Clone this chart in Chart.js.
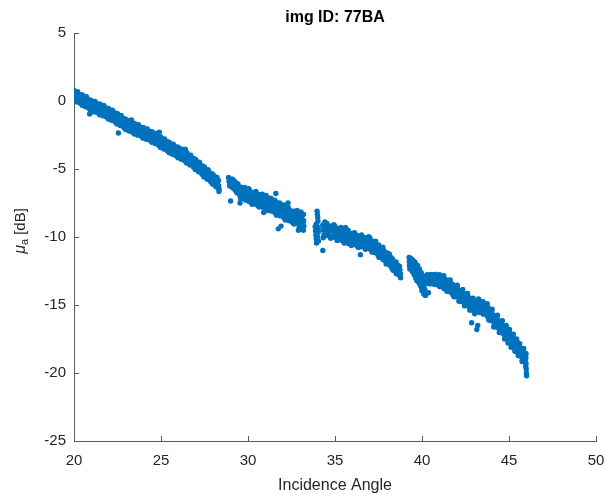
<!DOCTYPE html>
<html>
<head>
<meta charset="utf-8">
<script src="https://cdn.jsdelivr.net/npm/chart.js@4.4.1/dist/chart.umd.min.js"></script>
<style>
  html, body { margin: 0; padding: 0; background: #fff; }
  #wrap { width: 608px; height: 499px; }
</style>
</head>
<body>
<div id="wrap"><canvas id="scatterChart" width="608" height="499"></canvas></div>
<script>
const chartTitle = "img ID: 77BA";
const xTitle = "Incidence Angle";
const angleTicks = [20, 25, 30, 35, 40, 45, 50];
const muTicks = [-25, -20, -15, -10, -5, 0, 5];

// [incidence angle, mu_a dB], one list per visible stretch
const segA = [
  [20.00,0.78],[20.03,0.44],[20.06,0.06],[20.11,0.61],[20.13,0.37],[20.15,-0.07],[20.21,0.68],[20.24,0.26],[20.27,-0.02],
  [20.30,0.49],[20.33,0.11],[20.36,-0.17],[20.42,0.47],[20.44,0.18],[20.47,-0.32],[20.50,0.43],[20.53,0.01],[20.56,-0.27],
  [20.61,0.25],[20.63,0.01],[20.66,-0.43],[20.71,0.31],[20.74,-0.11],[20.77,-0.39],[20.80,0.11],[20.83,-0.27],[20.86,-0.55],
  [20.92,0.08],[20.94,-0.21],[20.97,-0.71],[21.00,0.03],[21.03,-0.39],[21.06,-0.67],[21.11,-0.12],[21.13,-0.36],[21.16,-0.80],
  [21.21,-0.04],[21.24,-0.46],[21.27,-0.74],[21.30,-0.21],[21.33,-0.59],[21.36,-0.87],[21.42,-0.22],[21.44,-0.51],[21.47,-1.01],
  [21.50,-0.24],[21.53,-0.66],[21.56,-0.94],[21.61,-0.41],[21.63,-0.65],[21.66,-1.09],[21.71,-0.33],[21.74,-0.75],[21.77,-1.03],
  [21.80,-0.52],[21.83,-0.90],[21.86,-1.18],[21.92,-0.53],[21.94,-0.82],[21.97,-1.32],[22.00,-0.57],[22.03,-0.99],[22.06,-1.27],
  [22.11,-0.74],[22.13,-0.98],[22.16,-1.42],[22.21,-0.68],[22.24,-1.10],[22.27,-1.38],[22.30,-0.87],[22.33,-1.25],[22.36,-1.53],
  [22.42,-0.90],[22.44,-1.19],[22.47,-1.69],[22.50,-0.94],[22.53,-1.36],[22.56,-1.64],[22.61,-1.13],[22.63,-1.37],[22.66,-1.81],
  [22.71,-1.07],[22.74,-1.49],[22.77,-1.77],[22.80,-1.28],[22.83,-1.66],[22.86,-1.94],[22.92,-1.31],[22.94,-1.60],[22.97,-2.10],
  [23.00,-1.37],[23.03,-1.79],[23.06,-2.07],[23.11,-1.53],[23.13,-1.77],[23.16,-2.21],[23.21,-1.45],[23.24,-1.87],[23.27,-2.15],
  [23.30,-1.63],[23.33,-2.01],[23.36,-2.29],[23.42,-1.64],[23.44,-1.93],[23.47,-2.43],[23.50,-1.67],[23.53,-2.09],[23.56,-2.37],
  [23.61,-1.83],[23.63,-2.07],[23.66,-2.51],[23.71,-1.75],[23.74,-2.17],[23.77,-2.45],[23.80,-1.93],[23.83,-2.31],[23.86,-2.59],
  [23.92,-1.94],[23.94,-2.23],[23.97,-2.73],[24.00,-1.97],[24.03,-2.39],[24.06,-2.67],[24.11,-2.13],[24.13,-2.37],[24.16,-2.81],
  [24.21,-2.05],[24.24,-2.47],[24.27,-2.75],[24.30,-2.23],[24.33,-2.61],[24.36,-2.89],[24.42,-2.24],[24.44,-2.53],[24.47,-3.03],
  [24.50,-2.27],[24.53,-2.69],[24.56,-2.97],[24.61,-2.45],[24.63,-2.69],[24.66,-3.13],[24.71,-2.39],[24.74,-2.81],[24.77,-3.09],
  [24.80,-2.59],[24.83,-2.97],[24.86,-3.25],[24.92,-2.62],[24.94,-2.91],[24.97,-3.41],[25.00,-2.67],[25.03,-3.09],[25.06,-3.37],
  [25.11,-2.85],[25.13,-3.09],[25.16,-3.53],[25.21,-2.79],[25.24,-3.21],[25.27,-3.49],[25.30,-2.99],[25.33,-3.37],[25.36,-3.65],
  [25.42,-3.02],[25.44,-3.31],[25.47,-3.81],[25.50,-3.07],[25.53,-3.49],[25.56,-3.77],[25.61,-3.24],[25.63,-3.48],[25.66,-3.92],
  [25.71,-3.17],[25.74,-3.59],[25.77,-3.87],[25.80,-3.36],[25.83,-3.74],[25.86,-4.02],[25.92,-3.38],[25.94,-3.67],[25.97,-4.17],
  [26.00,-3.42],[26.03,-3.84],[26.06,-4.12],[26.11,-3.60],[26.13,-3.84],[26.16,-4.28],[26.21,-3.54],[26.24,-3.96],[26.27,-4.24],
  [26.30,-3.74],[26.33,-4.12],[26.36,-4.40],[26.42,-3.77],[26.44,-4.06],[26.47,-4.56],[26.50,-3.82],[26.53,-4.24],[26.56,-4.52],
  [26.61,-4.02],[26.63,-4.26],[26.66,-4.70],[26.71,-3.98],[26.74,-4.40],[26.77,-4.68],[26.80,-4.20],[26.83,-4.58],[26.86,-4.86],
  [26.92,-4.25],[26.94,-4.54],[26.97,-5.04],[27.00,-4.32],[27.03,-4.74],[27.06,-5.02],[27.11,-4.53],[27.13,-4.77],[27.16,-5.21],
  [27.21,-4.50],[27.24,-4.92],[27.27,-5.20],[27.30,-4.73],[27.33,-5.11],[27.36,-5.39],[27.42,-4.79],[27.44,-5.08],[27.47,-5.58],
  [27.50,-4.87],[27.53,-5.29],[27.56,-5.57],[27.61,-5.08],[27.63,-5.32],[27.66,-5.76],[27.71,-5.05],[27.74,-5.47],[27.77,-5.75],
  [27.80,-5.28],[27.83,-5.66],[27.86,-5.94],[27.92,-5.34],[27.94,-5.63],[27.97,-6.13],[28.00,-5.42],[28.03,-5.84],[28.06,-6.12],
  [28.11,-5.63],[28.13,-5.87],[28.16,-6.31],[28.21,-5.61],[28.24,-6.03],[28.27,-6.31],[28.30,-5.84],[28.32,-6.22],[28.34,-6.50],
  [28.33,-6.65],[28.31,-6.40]
];

const segB = [
  [28.88,-5.62],[28.91,-5.92],[28.94,-6.24],[29.00,-5.75],[29.03,-6.01],[29.06,-6.33],[29.11,-5.75],[29.13,-6.11],[29.16,-6.41],
  [29.21,-5.88],[29.24,-6.26],[29.27,-6.56],[29.30,-5.99],[29.33,-6.28],[29.36,-6.74],[29.42,-6.10],[29.44,-6.44],[29.47,-6.82],
  [29.50,-6.33],[29.53,-6.66],[29.56,-7.05],[29.61,-6.33],[29.63,-6.75],[29.66,-7.03],[29.58,-7.20],[29.71,-6.50],[29.74,-6.87],
  [29.77,-7.16],[29.80,-6.50],[29.83,-6.79],[29.86,-7.29],[29.82,-6.35],[29.92,-6.52],[29.94,-6.86],[29.97,-7.18],[30.00,-6.67],
  [30.03,-7.00],[30.06,-7.39],[30.04,-6.45],[30.11,-6.59],[30.13,-7.01],[30.16,-7.29],[30.21,-6.77],[30.24,-7.14],[30.27,-7.43],
  [30.23,-7.60],[30.30,-6.78],[30.33,-7.07],[30.36,-7.57],[30.42,-6.81],[30.44,-7.15],[30.47,-7.47],[30.45,-6.65],[30.50,-6.97],
  [30.53,-7.30],[30.56,-7.69],[30.61,-6.87],[30.63,-7.29],[30.66,-7.57],[30.64,-7.80],[30.71,-7.03],[30.74,-7.40],[30.77,-7.69],
  [30.80,-7.02],[30.83,-7.31],[30.86,-7.81],[30.82,-6.85],[30.92,-7.03],[30.94,-7.37],[30.97,-7.69],[31.00,-7.17],[31.03,-7.50],
  [31.06,-7.89],[31.04,-6.95],[31.11,-7.10],[31.13,-7.52],[31.16,-7.80],[31.14,-8.05],[31.21,-7.29],[31.24,-7.66],[31.27,-7.95],
  [31.30,-7.31],[31.33,-7.60],[31.36,-8.10],[31.32,-7.15],[31.42,-7.35],[31.44,-7.69],[31.47,-8.01],[31.50,-7.52],[31.53,-7.85],
  [31.56,-8.24],[31.54,-7.30],[31.61,-7.45],[31.63,-7.87],[31.66,-8.15],[31.64,-8.40],[31.71,-7.64],[31.74,-8.01],[31.77,-8.30],
  [31.80,-7.66],[31.83,-7.95],[31.86,-8.45],[31.82,-7.50],[31.92,-7.70],[31.94,-8.04],[31.97,-8.36],[32.00,-7.87],[32.03,-8.20],
  [32.06,-8.59],[32.04,-7.65],[32.11,-7.80],[32.13,-8.22],[32.16,-8.50],[32.14,-8.75],[32.21,-7.99],[32.24,-8.36],[32.27,-8.65],
  [32.30,-8.01],[32.33,-8.30],[32.36,-8.80],[32.32,-7.85],[32.42,-8.05],[32.44,-8.39],[32.47,-8.71],[32.50,-8.22],[32.53,-8.55],
  [32.56,-8.94],[32.61,-8.11],[32.63,-8.53],[32.66,-8.81],[32.64,-9.05],[32.71,-8.26],[32.74,-8.63],[32.77,-8.92],[32.80,-8.24],
  [32.83,-8.53],[32.86,-9.03],[32.82,-8.05],[32.92,-8.24],[32.94,-8.58],[32.97,-8.90],[32.95,-9.30],[33.00,-8.37],[33.03,-8.70],
  [33.06,-9.09],[33.04,-8.15],[33.11,-8.30],[33.13,-8.72],[33.16,-9.00],[33.14,-9.40],[33.19,-8.35],[33.20,-8.80],[33.21,-9.20],
  [33.18,-9.50]
];

const segC = [
  [33.86,-9.25],[33.88,-9.55],[33.90,-9.85],[33.92,-10.15],[33.94,-10.45],[33.96,-9.40],[33.98,-9.70],[34.00,-10.00],
  [33.97,-8.10],[33.99,-8.35],[34.01,-8.60],[34.02,-8.85],[34.04,-9.30],[34.06,-9.60],[34.05,-10.30],[33.92,-9.05]
];

const segD = [
  [34.30,-9.12],[34.33,-9.46],[34.36,-9.84],[34.32,-10.05],[34.41,-9.23],[34.43,-9.47],[34.46,-9.91],[34.51,-9.11],[34.54,-9.53],
  [34.57,-9.81],[34.53,-9.00],[34.60,-9.24],[34.63,-9.62],[34.66,-9.90],[34.72,-9.20],[34.74,-9.49],[34.77,-9.99],[34.75,-10.10],
  [34.80,-9.20],[34.83,-9.54],[34.86,-9.92],[34.91,-9.34],[34.93,-9.58],[34.96,-10.02],[34.94,-9.10],[35.01,-9.23],[35.04,-9.65],
  [35.07,-9.93],[35.10,-9.41],[35.13,-9.79],[35.16,-10.07],[35.12,-10.25],[35.22,-9.42],[35.24,-9.71],[35.27,-10.21],[35.30,-9.45],
  [35.33,-9.79],[35.36,-10.17],[35.34,-9.30],[35.41,-9.61],[35.43,-9.85],[35.46,-10.29],[35.51,-9.53],[35.54,-9.95],[35.57,-10.23],
  [35.53,-10.45],[35.60,-9.69],[35.63,-10.07],[35.66,-10.35],[35.72,-9.68],[35.74,-9.97],[35.77,-10.47],[35.75,-9.50],[35.80,-9.69],
  [35.83,-10.03],[35.86,-10.41],[35.91,-9.83],[35.93,-10.07],[35.96,-10.51],[35.94,-10.62],[36.01,-9.73],[36.04,-10.15],[36.07,-10.43],
  [36.10,-9.89],[36.13,-10.27],[36.16,-10.55],[36.12,-9.68],[36.22,-9.88],[36.24,-10.17],[36.27,-10.67],[36.30,-9.89],[36.33,-10.23],
  [36.36,-10.61],[36.34,-10.78],[36.41,-10.03],[36.43,-10.27],[36.46,-10.71],[36.51,-9.93],[36.54,-10.35],[36.57,-10.63],[36.53,-9.85],
  [36.60,-10.08],[36.63,-10.46],[36.66,-10.74],[36.72,-10.06],[36.74,-10.35],[36.77,-10.85],[36.75,-10.90],[36.80,-10.06],[36.83,-10.40],
  [36.86,-10.78],[36.91,-10.19],[36.93,-10.43],[36.96,-10.87],[36.94,-9.98],[37.01,-10.08],[37.04,-10.50],[37.07,-10.78],[37.10,-10.30],
  [37.13,-10.68],[37.16,-10.96],[37.12,-11.10],[37.22,-10.35],[37.24,-10.64],[37.27,-11.14],[37.30,-10.42],[37.33,-10.76],[37.36,-11.14],
  [37.34,-10.30],[37.41,-10.62],[37.43,-10.86],[37.46,-11.30],[37.51,-10.58],[37.54,-11.00],[37.57,-11.28],[37.53,-11.50],[37.60,-10.82],
  [37.63,-11.20],[37.66,-11.48],[37.72,-10.89],[37.74,-11.18],[37.77,-11.68],[37.75,-10.75],[37.80,-10.98],[37.83,-11.32],[37.86,-11.70],
  [37.91,-11.20],[37.93,-11.44],[37.96,-11.88],[37.94,-11.98],[38.01,-11.18],[38.04,-11.60],[38.07,-11.88],[38.10,-11.43],[38.13,-11.81],
  [38.16,-12.09],[38.12,-11.25],[38.22,-11.51],[38.24,-11.80],[38.27,-12.30],[38.30,-11.61],[38.33,-11.95],[38.36,-12.33],[38.34,-12.45],
  [38.41,-11.84],[38.43,-12.08],[38.46,-12.52],[38.51,-11.83],[38.54,-12.25],[38.57,-12.53],[38.53,-12.70],[38.60,-12.07],[38.63,-12.45],
  [38.66,-12.73],[38.71,-12.14],[38.73,-12.43],[38.75,-12.93],[38.76,-12.70],[38.77,-13.00]
];

const segE = [
  [39.26,-11.50],[39.27,-11.80],[39.28,-12.10],[39.31,-11.55],[39.32,-11.85],[39.33,-12.15],[39.36,-11.62],[39.37,-11.95],[39.38,-12.28],
  [39.41,-11.70],[39.42,-12.02],[39.43,-12.40],[39.46,-11.78],[39.47,-12.12],[39.48,-12.50],[39.51,-11.85],[39.52,-12.22],[39.53,-12.60],
  [39.56,-11.92],[39.57,-12.30],[39.58,-12.72],[39.61,-12.00],[39.62,-12.40],[39.63,-12.85],[39.66,-12.08],[39.67,-12.52],[39.68,-12.98],
  [39.71,-12.20],[39.72,-12.65],[39.73,-13.10],[39.76,-12.32],[39.77,-12.78],[39.78,-13.22],[39.81,-12.45],[39.82,-12.90],[39.83,-13.35],
  [39.86,-12.58],[39.87,-13.02],[39.88,-13.48],[39.91,-12.70],[39.92,-13.15],[39.93,-13.62],[39.96,-12.82],[39.97,-13.28],[39.98,-13.75],
  [40.01,-12.95],[40.02,-13.40],[40.03,-13.88],[40.06,-13.05],[40.07,-13.52],[40.08,-14.00],[40.11,-13.15],[40.12,-13.60],[40.13,-14.10],
  [40.15,-13.30],[40.16,-13.85],[40.17,-14.25],
  [39.30,-12.35],[39.40,-11.62],[39.45,-12.55],[39.55,-12.80],[39.60,-11.85],[39.65,-13.05],[39.75,-12.10],[39.80,-13.30],
  [39.85,-12.35],[39.95,-12.60],[40.00,-13.95],[40.05,-12.85],[40.10,-14.20],[39.50,-11.75],[39.70,-13.20]
];

const segF = [
  [40.30,-12.78],[40.33,-13.06],[40.36,-13.40],[40.41,-12.82],[40.43,-13.06],[40.46,-13.45],[40.51,-12.75],[40.54,-13.10],[40.57,-13.38],
  [40.60,-12.80],[40.63,-13.18],[40.66,-13.46],[40.72,-12.75],[40.74,-13.04],[40.77,-13.50],[40.80,-12.75],[40.83,-13.09],[40.86,-13.47],
  [40.91,-12.89],[40.93,-13.13],[40.96,-13.57],[41.01,-12.78],[41.04,-13.20],[41.07,-13.48],[41.03,-13.65],[41.10,-12.98],[41.13,-13.36],
  [41.16,-13.64],[41.22,-13.01],[41.24,-13.30],[41.27,-13.80],[41.25,-12.85],[41.30,-13.06],[41.33,-13.40],[41.36,-13.78],[41.41,-13.24],
  [41.43,-13.48],[41.46,-13.92],[41.44,-14.00],[41.51,-13.18],[41.54,-13.60],[41.57,-13.88],[41.60,-13.40],[41.63,-13.78],[41.66,-14.06],
  [41.62,-13.15],[41.72,-13.45],[41.74,-13.74],[41.77,-14.24],[41.80,-13.52],[41.83,-13.86],[41.86,-14.24],[41.84,-14.40],[41.91,-13.72],
  [41.93,-13.96],[41.96,-14.40],[42.01,-13.68],[42.04,-14.10],[42.07,-14.38],[42.03,-13.55],[42.10,-13.90],[42.13,-14.28],[42.16,-14.56],
  [42.12,-14.72],[42.22,-13.95],[42.24,-14.24],[42.27,-14.74],[42.30,-14.02],[42.33,-14.36],[42.36,-14.74],[42.34,-13.85],[42.41,-14.22],
  [42.43,-14.46],[42.46,-14.90],[42.44,-15.05],[42.51,-14.18],[42.54,-14.60],[42.57,-14.88],[42.60,-14.41],[42.63,-14.79],[42.66,-15.07],
  [42.62,-14.15],[42.72,-14.47],[42.74,-14.76],[42.77,-15.26],[42.75,-15.38],[42.80,-14.55],[42.83,-14.89],[42.86,-15.27],[42.91,-14.76],
  [42.93,-15.00],[42.96,-15.44],[42.94,-14.50],[43.01,-14.73],[43.04,-15.15],[43.07,-15.43],[43.03,-15.65],[43.10,-14.82],[43.13,-15.20],
  [43.16,-15.48],[43.22,-14.73],[43.24,-15.02],[43.27,-15.52],[43.25,-14.55],[43.30,-14.67],[43.33,-15.01],[43.36,-15.39],[43.34,-15.55],
  [43.41,-14.84],[43.43,-15.08],[43.46,-15.52],[43.51,-14.76],[43.54,-15.18],[43.57,-15.46],[43.53,-15.68],[43.60,-14.95],[43.63,-15.33],
  [43.66,-15.61],[43.72,-15.06],[43.74,-15.35],[43.77,-15.85],[43.75,-14.90],[43.80,-15.20],[43.83,-15.54],[43.86,-15.92],[43.84,-16.10],
  [43.91,-15.46],[43.93,-15.70],[43.96,-16.14],[44.01,-15.48],[44.04,-15.90],[44.07,-16.18],[44.03,-15.30],[44.10,-15.74],[44.13,-16.12],
  [44.16,-16.40],[44.12,-16.62],[44.22,-15.83],[44.24,-16.12],[44.27,-16.62],[44.30,-15.94],[44.33,-16.28],[44.36,-16.66],[44.34,-15.75],
  [44.41,-16.18],[44.43,-16.42],[44.46,-16.86],[44.44,-17.02],[44.51,-16.18],[44.54,-16.60],[44.57,-16.88],[44.60,-16.46],[44.63,-16.84],
  [44.66,-17.12],[44.62,-16.15],[44.72,-16.57],[44.74,-16.86],[44.77,-17.36],[44.75,-17.50],[44.80,-16.70],[44.83,-17.04],[44.86,-17.42],
  [44.84,-16.50],[44.91,-16.96],[44.93,-17.20],[44.96,-17.64],[44.94,-17.80],[45.01,-16.98],[45.04,-17.40],[45.07,-17.68],[45.03,-16.80],
  [45.10,-17.26],[45.13,-17.64],[45.16,-17.92],[45.12,-18.10],[45.22,-17.37],[45.24,-17.66],[45.27,-18.16],[45.25,-17.15],[45.30,-17.50],
  [45.33,-17.84],[45.36,-18.22],[45.34,-18.40],[45.41,-17.76],[45.43,-18.00],[45.46,-18.44],[45.44,-17.50],[45.51,-17.78],[45.54,-18.20],
  [45.57,-18.48],[45.53,-18.72],[45.60,-18.10],[45.63,-18.48],[45.66,-18.76],[45.62,-17.85],[45.72,-18.25],[45.74,-18.54],[45.77,-19.04],
  [45.75,-19.15],[45.80,-18.42],[45.83,-18.76],[45.86,-19.14],[45.84,-18.20],[45.91,-18.82],[45.93,-19.06],[45.96,-19.50],[45.94,-18.55],
  [45.97,-18.90],[45.98,-19.30],[45.99,-19.70],[46.00,-20.00],[46.01,-20.20],[45.98,-18.60]
];

const strayPoints = [
  [22.55,-2.35],[24.90,-2.30],[20.90,-0.95],[23.30,-1.40],[26.40,-3.55],[29.54,-7.50],[29.00,-7.35],[31.74,-9.40],[31.90,-9.20],
  [32.30,-7.50],[31.60,-6.80],[30.90,-8.20],[32.90,-9.50],[34.30,-10.99],[36.46,-11.30],[34.42,-8.90],[35.60,-9.30],[40.37,-14.10],
  [40.20,-14.30],[42.85,-16.30],[43.15,-16.80],[43.20,-16.50]
];

const allPoints = [...segA, ...segB, ...segC, ...segD, ...segE, ...segF, ...strayPoints];

const textColor = "#262626";
const axisColor = "#5a5a5a";
const fontFamily = "'Liberation Sans', Arial, Helvetica, sans-serif";

// MATLAB style y label: mu with subscript a
const yTitlePlugin = {
  id: "yTitle",
  afterDraw(chart) {
    const { ctx, chartArea } = chart;
    const cy = (chartArea.top + chartArea.bottom) / 2 - 6;
    const big = `15px ${fontFamily}`;
    const bigItalic = `italic 16px ${fontFamily}`;
    const small = `11px ${fontFamily}`;
    ctx.save();
    ctx.fillStyle = textColor;
    ctx.textBaseline = "alphabetic";
    ctx.textAlign = "left";
    ctx.font = bigItalic;
    const wMu = ctx.measureText("\u03bc").width;
    ctx.font = small;
    const wA = ctx.measureText("a").width;
    ctx.font = big;
    const wRest = ctx.measureText(" [dB]").width;
    const total = wMu + wA + wRest;
    ctx.translate(25, cy);
    ctx.rotate(-Math.PI / 2);
    let x = -total / 2;
    ctx.font = bigItalic;
    ctx.fillText("\u03bc", x, 0);
    x += wMu;
    ctx.font = small;
    ctx.fillText("a", x, 3);
    x += wA;
    ctx.font = big;
    ctx.fillText(" [dB]", x, 0);
    ctx.restore();
  },
};

function initScatterChart() {
  const canvas = document.getElementById("scatterChart");
  if (!canvas || !window.Chart) return;

  new Chart(canvas.getContext("2d"), {
    type: "scatter",
    data: {
      datasets: [
        {
          data: allPoints.map(([x, y]) => ({ x, y })),
          backgroundColor: "#0072BD",
          borderWidth: 0,
          pointRadius: 2.7,
        },
      ],
    },
    options: {
      responsive: false,
      animation: false,
      events: [],
      layout: { padding: 0 },
      plugins: {
        legend: { display: false },
        tooltip: { enabled: false },
        title: {
          display: true,
          text: chartTitle,
          fullSize: false,
          color: "#000",
          font: { family: fontFamily, size: 16, weight: "bold" },
          padding: { top: 8, bottom: 5.8 },
        },
      },
      scales: {
        x: {
          type: "linear",
          min: angleTicks[0],
          max: angleTicks[angleTicks.length - 1],
          afterBuildTicks: (s) => { s.ticks = angleTicks.map((v) => ({ value: v })); },
          afterFit: (s) => { s.height = 58; s.paddingLeft = 0; s.paddingRight = 12; },
          grid: { drawOnChartArea: false, drawTicks: true, tickLength: -5, color: axisColor },
          border: { display: true, color: axisColor },
          ticks: { color: textColor, padding: 16, maxRotation: 0, font: { family: fontFamily, size: 15 } },
          title: {
            display: true,
            text: xTitle,
            color: textColor,
            font: { family: fontFamily, size: 16 },
            padding: { top: 0, bottom: 4 },
          },
        },
        y: {
          type: "linear",
          min: muTicks[0],
          max: muTicks[muTicks.length - 1],
          afterBuildTicks: (s) => { s.ticks = muTicks.map((v) => ({ value: v })); },
          afterFit: (s) => { s.width = 74; },
          grid: { drawOnChartArea: false, drawTicks: true, tickLength: -5, color: axisColor },
          border: { display: true, color: axisColor },
          ticks: { color: textColor, padding: 13, font: { family: fontFamily, size: 15 } },
        },
      },
    },
    plugins: [yTitlePlugin],
  });
}

document.addEventListener("DOMContentLoaded", () => {
  initScatterChart();
});
</script>
</body>
</html>
